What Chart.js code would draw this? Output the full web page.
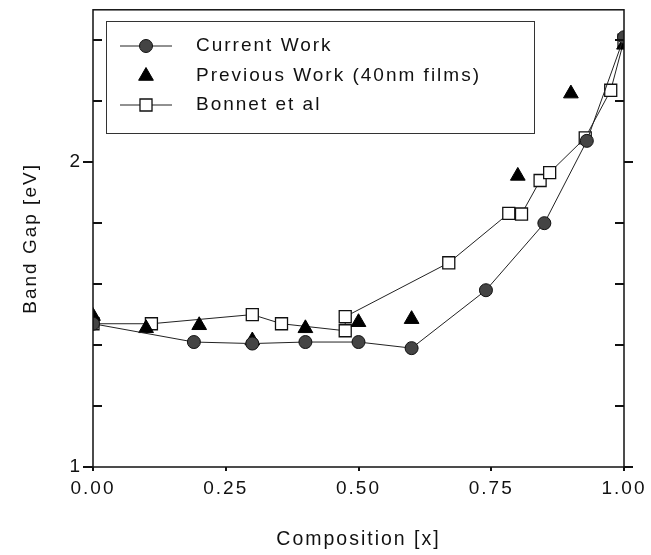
<!DOCTYPE html>
<html>
<head>
<meta charset="utf-8">
<script src="https://cdn.jsdelivr.net/npm/chart.js@4"></script>
<style>
  html, body { margin: 0; padding: 0; background: #fff; }
  #box { width: 651px; height: 555px; }
</style>
</head>
<body>
<div id="box"><canvas id="grafico"></canvas></div>
<script>
// dados
var atualX = [0, 0.19, 0.30, 0.40, 0.50, 0.60, 0.74, 0.85, 0.93, 1.00];
var atualY = [1.47, 1.41, 1.405, 1.41, 1.41, 1.39, 1.58, 1.80, 2.07, 2.41];

var anteriorX = [0, 0.10, 0.20, 0.30, 0.40, 0.50, 0.60, 0.80, 0.90, 1.00];
var anteriorY = [1.495, 1.455, 1.465, 1.415, 1.455, 1.475, 1.485, 1.955, 2.225, 2.385];

var bonnetX = [0, 0.11, 0.30, 0.355, 0.475, 0.475, 0.67, 0.783, 0.807, 0.842, 0.86, 0.927, 0.975, 1.00];
var bonnetY = [1.47, 1.47, 1.50, 1.47, 1.447, 1.493, 1.67, 1.832, 1.83, 1.94, 1.966, 2.08, 2.236, 2.40];

var rotulos = ["Current Work", "Previous Work (40nm films)", "Bonnet et al"];
var ticksX = [0, 0.25, 0.5, 0.75, 1];
var ticksY = [1, 2];
var ticksMenoresY = [1.2, 1.4, 1.6, 1.8, 2.2, 2.4];

var fonte = "'Liberation Sans', Arial, sans-serif";

function juntar(xs, ys) {
  var pts = [];
  for (var i = 0; i < xs.length; i++) pts.push({ x: xs[i], y: ys[i] });
  return pts;
}

// tira o espaço extra que o chart.js reserva para os rótulos
function semPadding(s) {
  s.paddingTop = 0;
  s.paddingBottom = 0;
  s.paddingLeft = 0;
  s.paddingRight = 0;
}

// moldura e tracinhos dos eixos
var pluginEixos = {
  id: "eixos",
  beforeDraw: function(chart) {
    chart.ctx.letterSpacing = "2px";
  },
  afterDraw: function(chart) {
    var ctx = chart.ctx;
    var a = chart.chartArea;
    var sx = chart.scales.x;
    var sy = chart.scales.y;
    ctx.save();
    ctx.strokeStyle = "#111";
    ctx.lineWidth = 1.5;
    ctx.strokeRect(a.left, a.top, a.right - a.left, a.bottom - a.top);

    ctx.lineWidth = 2;
    ctx.beginPath();
    ticksMenoresY.forEach(function(v) {
      var y = Math.round(sy.getPixelForValue(v));
      ctx.moveTo(a.left, y); ctx.lineTo(a.left + 9, y);
      ctx.moveTo(a.right, y); ctx.lineTo(a.right - 9, y);
    });
    ticksY.forEach(function(v) {
      var y = Math.round(sy.getPixelForValue(v));
      ctx.moveTo(a.left, y); ctx.lineTo(a.left - 10, y);
      ctx.moveTo(a.right, y); ctx.lineTo(a.right + 9, y);
    });
    ticksX.forEach(function(v) {
      var x = Math.round(sx.getPixelForValue(v));
      ctx.moveTo(x, a.bottom); ctx.lineTo(x, a.bottom + 4);
    });
    ctx.stroke();
    ctx.restore();
  }
};

// legenda dentro do gráfico com caixa
var pluginLegenda = {
  id: "legendaCaixa",
  afterDatasetsDraw: function(chart) {
    var ctx = chart.ctx;
    ctx.save();
    ctx.fillStyle = "#fff";
    ctx.fillRect(106, 21, 428, 112);
    ctx.strokeStyle = "#333";
    ctx.lineWidth = 1;
    ctx.strokeRect(106.5, 21.5, 428, 112);

    var linhas = [46, 76, 105];
    chart.data.datasets.forEach(function(ds, i) {
      var y = linhas[i];
      if (ds.showLine) {
        ctx.strokeStyle = ds.borderColor;
        ctx.lineWidth = ds.borderWidth;
        ctx.beginPath();
        ctx.moveTo(120, y); ctx.lineTo(172, y);
        ctx.stroke();
      }
      ctx.fillStyle = ds.pointBackgroundColor;
      ctx.strokeStyle = ds.pointBorderColor;
      ctx.lineWidth = ds.pointBorderWidth;
      Chart.helpers.drawPoint(ctx, {
        pointStyle: ds.pointStyle,
        radius: ds.pointRadius,
        borderWidth: ds.pointBorderWidth
      }, 146, y);

      ctx.fillStyle = "#111";
      ctx.font = "19px " + fonte;
      ctx.textBaseline = "middle";
      ctx.textAlign = "left";
      ctx.fillText(ds.label, 196, y);
    });
    ctx.restore();
  }
};

var grafico = new Chart(document.getElementById("grafico"), {
  type: "scatter",
  data: {
    datasets: [
      {
        label: rotulos[0],
        data: juntar(atualX, atualY),
        showLine: true,
        borderColor: "#222",
        borderWidth: 1,
        pointStyle: "circle",
        pointRadius: 6.5,
        pointBackgroundColor: "#444",
        pointBorderColor: "#111",
        pointBorderWidth: 1
      },
      {
        label: rotulos[1],
        data: juntar(anteriorX, anteriorY),
        showLine: false,
        pointStyle: "triangle",
        pointRadius: 8.5,
        pointBackgroundColor: "#000",
        pointBorderColor: "#000",
        pointBorderWidth: 1
      },
      {
        label: rotulos[2],
        data: juntar(bonnetX, bonnetY),
        showLine: true,
        borderColor: "#222",
        borderWidth: 1,
        pointStyle: "rect",
        pointRadius: 8.5,
        pointBackgroundColor: "#fff",
        pointBorderColor: "#111",
        pointBorderWidth: 1.3
      }
    ]
  },
  options: {
    responsive: true,
    maintainAspectRatio: false,
    animation: false,
    layout: { padding: { top: 9, right: 27, left: 0, bottom: 0 } },
    plugins: {
      legend: { display: false },
      tooltip: { enabled: false }
    },
    scales: {
      x: {
        type: "linear",
        min: 0,
        max: 1,
        afterBuildTicks: function(s) {
          s.ticks = ticksX.map(function(v) { return { value: v }; });
        },
        afterFit: function(s) { s.height = 88; semPadding(s); },
        ticks: {
          color: "#111",
          font: { family: fonte, size: 19 },
          padding: 10,
          maxRotation: 0,
          callback: function(v) { return Number(v).toFixed(2); }
        },
        grid: { display: false, drawTicks: false },
        border: { display: false },
        title: {
          display: true,
          text: "Composition [x]",
          color: "#111",
          font: { family: fonte, size: 19.5 },
          padding: { top: 0, bottom: 4 }
        }
      },
      y: {
        type: "linear",
        min: 1,
        max: 2.5,
        afterBuildTicks: function(s) {
          s.ticks = ticksY.map(function(v) { return { value: v }; });
        },
        afterFit: function(s) { s.width = 93; semPadding(s); },
        ticks: {
          color: "#111",
          font: { family: fonte, size: 19 },
          padding: 11,
          callback: function(v) { return String(v); }
        },
        grid: { display: false, drawTicks: false },
        border: { display: false },
        title: {
          display: true,
          text: "Band Gap [eV]",
          color: "#111",
          font: { family: fonte, size: 19 },
          padding: { top: 19, bottom: 0 }
        }
      }
    }
  },
  plugins: [pluginEixos, pluginLegenda]
});
</script>
</body>
</html>
